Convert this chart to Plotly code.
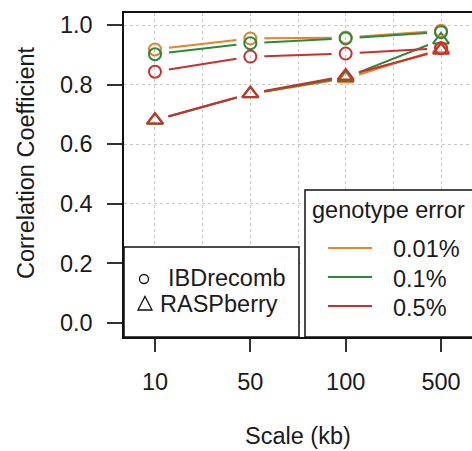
import math
import plotly.graph_objects as go

# ---- data ----
scale_labels = ["10", "50", "100", "500"]
scale_pos = [1, 2, 3, 4]
error_labels = ["0.01%", "0.1%", "0.5%"]
colors = ["#EC7F2A", "#2A8A3C", "#C9302C"]

ibd_001 = [0.918, 0.955, 0.958, 0.981]
ibd_01 = [0.902, 0.939, 0.955, 0.976]
ibd_05 = [0.843, 0.894, 0.904, 0.922]
rasp_001 = [0.680, 0.769, 0.820, 0.920]
rasp_01 = [0.680, 0.769, 0.824, 0.950]
rasp_05 = [0.681, 0.770, 0.829, 0.915]

y_ticks = [0.0, 0.2, 0.4, 0.6, 0.8, 1.0]
y_ticktext = ["0.0", "0.2", "0.4", "0.6", "0.8", "1.0"]

# ---- layout geometry ----
W, H = 472, 451
PL, PR, PT, PB = 124, 472, 13, 337
XR = [0.675, 4.325]
YR = [-0.047, 1.0403]
FS = 23.5
FONT = "Liberation Sans, Arial, Helvetica, sans-serif"
TXT = "#1a1a1a"

xs = (PR - PL) / (XR[1] - XR[0])
ys = (PB - PT) / (YR[1] - YR[0])


def px(x):
    return (x - PL) / (PR - PL)


def py(y):
    return (PB - y) / (PB - PT)


def gapped(xv, yv, gap=14.0):
    X, Y = [], []
    for i in range(len(xv) - 1):
        dx = (xv[i + 1] - xv[i])
        dy = (yv[i + 1] - yv[i])
        L = math.hypot(dx * xs, dy * ys)
        f = gap / L
        X += [xv[i] + f * dx, xv[i + 1] - f * dx, None]
        Y += [yv[i] + f * dy, yv[i + 1] - f * dy, None]
    return X, Y


fig = go.Figure()

ibd = [ibd_001, ibd_01, ibd_05]
rasp = [rasp_001, rasp_01, rasp_05]

for series, sym, size in [(rasp, "triangle-up-open", 14), (ibd, "circle-open", 12)]:
    for vals, col, lab in zip(series, colors, error_labels):
        gx, gy = gapped(scale_pos, vals)
        fig.add_trace(go.Scatter(x=gx, y=gy, mode="lines",
                                 line=dict(color=col, width=2),
                                 showlegend=False, hoverinfo="skip"))
        fig.add_trace(go.Scatter(x=scale_pos, y=vals, mode="markers",
                                 marker=dict(symbol=sym, size=size, color=col,
                                             line=dict(color=col, width=2)),
                                 name=lab, showlegend=False))

shapes = []
# legend boxes
shapes.append(dict(type="rect", xref="paper", yref="paper",
                   x0=px(124), x1=px(299), y0=py(337), y1=py(247),
                   line=dict(color="#111", width=1.5), fillcolor="white", layer="above"))
shapes.append(dict(type="rect", xref="paper", yref="paper",
                   x0=px(305), x1=px(490), y0=py(337), y1=py(190),
                   line=dict(color="#111", width=1.5), fillcolor="white", layer="above"))
# left legend keys
shapes.append(dict(type="circle", xref="paper", yref="paper",
                   x0=px(139.5), x1=px(148.5), y0=py(283.5), y1=py(274.5),
                   line=dict(color="#111", width=1.3), layer="above"))
tx, ty = 145, 303
path = "M {} {} L {} {} L {} {} Z".format(px(tx - 7), py(ty + 7), px(tx + 7), py(ty + 7), px(tx), py(ty - 6.5))
shapes.append(dict(type="path", xref="paper", yref="paper", path=path,
                   line=dict(color="#111", width=1.3), layer="above"))
# right legend keys
for yy, col in zip([248, 277, 306], colors):
    shapes.append(dict(type="line", xref="paper", yref="paper",
                       x0=px(328), x1=px(372), y0=py(yy), y1=py(yy),
                       line=dict(color=col, width=1.8), layer="above"))

annotations = []


def ann(text, x, y, xanchor="left", angle=0):
    annotations.append(dict(text=text, x=px(x), y=py(y), xref="paper", yref="paper",
                            xanchor=xanchor, yanchor="middle", showarrow=False,
                            textangle=angle, font=dict(size=FS, color=TXT, family=FONT)))


ann("IBDrecomb", 166, 278)
ann("RASPberry", 158, 304)
ann("genotype error", 310, 210)
for lab, yy in zip(error_labels, [249, 279, 308]):
    ann(lab, 391, yy)
ann("Scale (kb)", 298, 436, xanchor="center")
ann("Correlation Coefficient", 26, 163, xanchor="center", angle=-90)

fig.update_layout(
    width=W, height=H,
    margin=dict(l=PL, r=W - PR, t=PT, b=H - PB),
    paper_bgcolor="white", plot_bgcolor="white",
    font=dict(family=FONT, size=FS, color=TXT),
    shapes=shapes, annotations=annotations,
    showlegend=False,
    xaxis=dict(range=XR, tickmode="array", tickvals=scale_pos, ticktext=scale_labels,
               showline=True, mirror=True, linecolor="#111", linewidth=1.5,
               ticks="outside", ticklen=13, tickwidth=1.5, tickcolor="#333",
               ticklabelstandoff=10,
               showgrid=True, gridcolor="#c8c8c8", griddash="dot", gridwidth=1,
               minor=dict(tickmode="array", tickvals=[1.5, 2.5, 3.5], showgrid=True,
                          gridcolor="#c8c8c8", griddash="dot", gridwidth=1, ticks=""),
               zeroline=False, fixedrange=True),
    yaxis=dict(range=YR, tickmode="array", tickvals=y_ticks, ticktext=y_ticktext,
               showline=True, mirror=False, linecolor="#111", linewidth=1.5,
               ticks="outside", ticklen=15, tickwidth=1.5, tickcolor="#333",
               ticklabelstandoff=10,
               showgrid=True, gridcolor="#c8c8c8", griddash="dot", gridwidth=1,
               zeroline=False, fixedrange=True),
)

fig.write_html("out.html")
